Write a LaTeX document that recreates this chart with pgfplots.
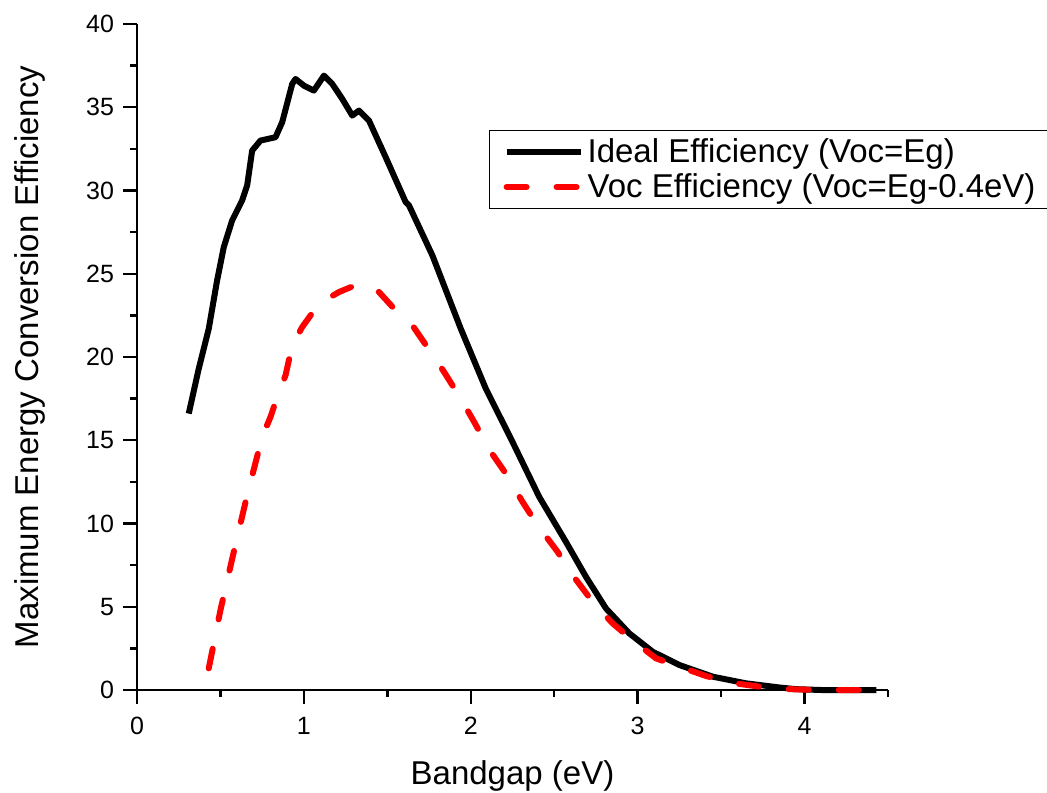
\documentclass[border=0pt]{standalone}
\usepackage{fontspec}
\setmainfont{Liberation Sans}
\usepackage{pgfplots}
\pgfplotsset{compat=1.18}
\begin{document}
\begin{tikzpicture}
\begin{axis}[
  scale only axis, width=375.5pt, height=333pt,
  xmin=0, xmax=4.5, ymin=0, ymax=40,
  axis x line*=bottom, axis y line*=left,
  axis line style={line width=1.2pt, -},
  xtick align=outside, ytick align=outside,
  major tick length=7pt, minor tick length=3.5pt,
  tick style={line width=1.2pt, black},
  xtick={0,1,2,3,4}, ytick={0,5,...,40},
  minor xtick={0.5,1.5,2.5,3.5,4.5},
  minor ytick={2.5,7.5,...,37.5},
  /pgf/number format/assume math mode=true,
  tick label style={font=\fontsize{12.5}{14}\selectfont},
  xticklabel style={yshift=-3pt},
  yticklabel style={xshift=-1pt},
  xlabel={Bandgap (eV)},
  ylabel={Maximum Energy Conversion Efficiency},
  label style={font=\fontsize{16.5}{19}\selectfont},
  xlabel style={at={(axis description cs:0.5,-0.1426)}, anchor=base, inner sep=0pt},
  ylabel style={at={(axis description cs:-0.1212,0.5)}, anchor=south, inner sep=0pt},
  clip=false,
  legend style={at={(rel axis cs:0.4687,0.8408)}, anchor=north west,
    draw=black, line width=0.6pt, inner xsep=7pt, inner ysep=2pt,
    font=\fontsize{16.5}{19}\selectfont, cells={anchor=west}},
  legend image code/.code={\draw[#1] (0pt,0pt) -- (37pt,0pt);},
  legend cell align=left,
  /tikz/every even column/.append style={column sep=4pt},
]
\addplot[black, line width=3pt, line join=round] coordinates {
(0.31,16.6) (0.37,19.3) (0.43,21.7) (0.48,24.6) (0.52,26.6) (0.57,28.2)
(0.63,29.4) (0.66,30.3) (0.69,32.4) (0.74,33.0) (0.83,33.2) (0.87,34.1)
(0.93,36.4) (0.95,36.7) (1.00,36.3) (1.06,36.0) (1.12,36.9) (1.17,36.4)
(1.23,35.5) (1.29,34.5) (1.33,34.8) (1.39,34.2) (1.49,32.0) (1.61,29.3)
(1.63,29.1) (1.77,26.1) (1.94,21.7) (2.09,18.1) (2.25,14.9) (2.41,11.6)
(2.57,8.9) (2.69,6.8) (2.81,4.9) (2.95,3.4) (3.09,2.3) (3.25,1.5)
(3.45,0.8) (3.65,0.4) (3.85,0.15) (3.95,0.05) (4.10,0.0) (4.43,0.0)
};
\addlegendentry{Ideal Efficiency (Voc=Eg)}
\addplot[red, line width=3pt, line cap=round, line join=round, dash pattern=on 10pt off 15pt] coordinates {
(0.43,1.3) (0.50,4.8) (0.58,8.3) (0.66,11.7) (0.75,15.2) (0.80,16.4)
(0.84,17.6) (0.89,18.9) (0.93,20.7) (0.99,21.8) (1.09,23.2) (1.21,23.9)
(1.33,24.4) (1.45,23.9) (1.55,22.8) (1.65,21.9) (1.76,20.3) (1.84,19.1)
(1.94,17.5) (2.02,16.1) (2.12,14.3) (2.21,13.0) (2.31,11.3) (2.40,9.9)
(2.52,8.3) (2.61,6.9) (2.73,5.3) (2.85,4.0) (2.98,2.9) (3.11,1.9)
(3.25,1.4) (3.41,0.84) (3.57,0.42) (3.73,0.2) (3.91,0.05) (4.10,0.0)
(4.43,0.0)
};
\addlegendentry{Voc Efficiency (Voc=Eg-0.4eV)}
\coordinate (LL) at (rel axis cs:0,0);
\end{axis}
\pgfresetboundingbox
\path[use as bounding box] ([shift={(-68.5pt,-51pt)}]LL) rectangle ++(523.5pt,396pt);
\end{tikzpicture}
\end{document}
